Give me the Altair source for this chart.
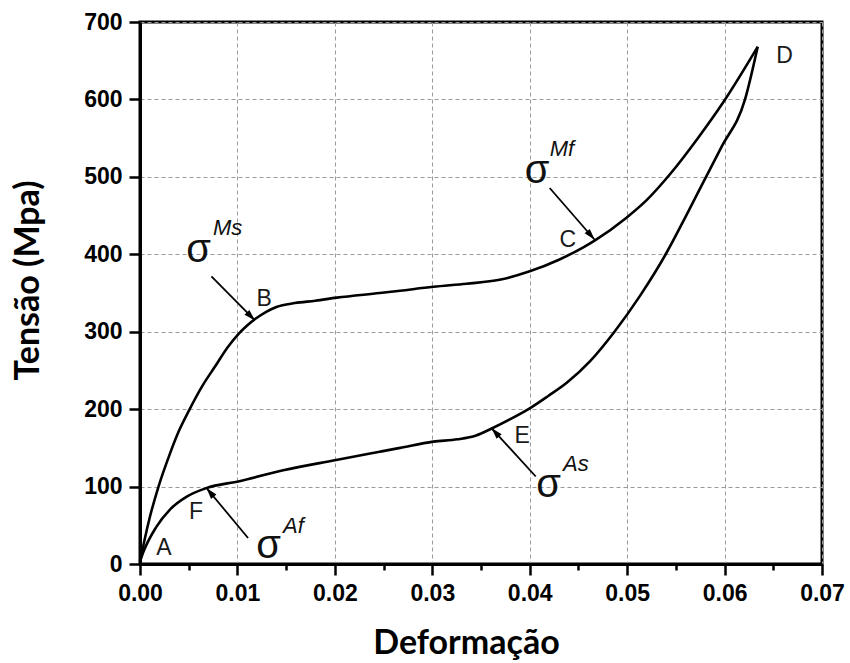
import math
import altair as alt
import pandas as pd

# ---- curve data (strain, stress MPa) ----
load_x = [0, 0.0005, 0.001, 0.0019, 0.003, 0.004, 0.0051, 0.0064, 0.0077, 0.009,
          0.0101, 0.011, 0.012, 0.013, 0.014, 0.0159, 0.018, 0.0202, 0.0246, 0.0267,
          0.0301, 0.0335, 0.0369, 0.04, 0.043, 0.0455, 0.0467, 0.0499, 0.052, 0.0545,
          0.0572, 0.0599, 0.0634]
load_y = [3, 33, 60, 100, 140, 172, 200, 230, 255, 280,
          297, 308, 318, 326, 332, 337, 340, 344, 350, 353,
          358, 362, 367, 378, 393, 409, 418, 447, 470, 505,
          549, 597, 668]

unload_x = [0, 0.0003, 0.00168, 0.00305, 0.0048, 0.0068, 0.0102, 0.0147, 0.02, 0.0246,
            0.0267, 0.0301, 0.0326, 0.0345, 0.0361, 0.038, 0.04, 0.0419, 0.0438, 0.0462,
            0.0487, 0.0513, 0.054, 0.0561, 0.0581, 0.0597, 0.0621, 0.0634]
unload_y = [3, 14, 48, 70, 87, 98, 107, 121, 134, 145,
            150, 158, 161, 166, 175, 187, 201, 217, 234, 262,
            300, 346, 401, 451, 500, 539, 600, 668]

# ---- annotation data ----
point_labels = ["A", "B", "C", "D", "E", "F"]
point_lx = [0.00246, 0.01275, 0.0439, 0.06617, 0.03923, 0.00575]
point_ly = [12, 333.5, 410, 647, 156.3, 58]

sigma_x = [0.00602, 0.04077, 0.04195, 0.01321]
sigma_y = [390, 492, 86, 7.7]
sup_text = ["Ms", "Mf", "As", "Af"]
sup_x = [0.00749, 0.04205, 0.04342, 0.01468]
sup_y = [425.3, 526.4, 119.6, 40]

arrow_x1 = [0.00733, 0.04205, 0.04062, 0.01109]
arrow_y1 = [371.4, 485.6, 113, 33.6]
arrow_x2 = [0.01180, 0.04667, 0.03607, 0.00682]
arrow_y2 = [314.5, 418.8, 175.6, 98.2]

x_ticks = [round(i * 0.005, 3) for i in range(15)]
y_ticks = list(range(0, 701, 50))

W, H = 682, 542
XMAX, YMAX = 0.07, 700

curves = pd.DataFrame(
    {"x": load_x, "y": load_y, "branch": "load", "i": range(len(load_x))}
)
curves = pd.concat([
    curves,
    pd.DataFrame({"x": unload_x, "y": unload_y, "branch": "unload", "i": range(len(unload_x))}),
])

labels_df = pd.DataFrame({"t": point_labels, "x": point_lx, "y": point_ly})
sigma_df = pd.DataFrame({"t": ["σ"] * 4, "x": sigma_x, "y": sigma_y})
sup_df = pd.DataFrame({"t": sup_text, "x": sup_x, "y": sup_y})

angles = []
for a, b, c, d in zip(arrow_x1, arrow_y1, arrow_x2, arrow_y2):
    dx = (c - a) * W / XMAX
    dy = (d - b) * H / YMAX
    angles.append(math.degrees(math.atan2(dx, dy)) % 360)
arrows_df = pd.DataFrame({"x1": arrow_x1, "y1": arrow_y1, "x2": arrow_x2, "y2": arrow_y2, "angle": angles})

xscale = alt.Scale(domain=[0, XMAX], nice=False, zero=False)
yscale = alt.Scale(domain=[0, YMAX], nice=False, zero=False)

x_major = "abs(datum.value*100 - round(datum.value*100)) < 1e-6"
y_major = "datum.value % 100 === 0"

x_axis = alt.Axis(
    title="Deformação",
    values=x_ticks,
    labelExpr=f"({x_major}) ? format(datum.value, '.2f') : ''",
    tickSize={"condition": {"test": x_major, "value": 11}, "value": 6},
    gridOpacity={"condition": {"test": x_major, "value": 1}, "value": 0},
    labelPadding=7,
    titleX=326,
    titleY=89,
    titleAlign="center",
    titleBaseline="alphabetic",
)
y_axis = alt.Axis(
    title="Tensão (Mpa)",
    values=y_ticks,
    labelExpr=f"({y_major}) ? datum.label : ''",
    tickSize={"condition": {"test": y_major, "value": 11}, "value": 6},
    gridOpacity={"condition": {"test": y_major, "value": 1}, "value": 0},
    labelPadding=7,
    titleX=-102,
    titleY=258,
    titleAlign="center",
    titleBaseline="alphabetic",
    titleAngle=270,
)

lines = alt.Chart(curves).mark_line(color="black", strokeWidth=2.6, interpolate="monotone").encode(
    x=alt.X("x:Q", scale=xscale, axis=x_axis),
    y=alt.Y("y:Q", scale=yscale, axis=y_axis),
    detail="branch:N",
    order="i:Q",
)

rules = alt.Chart(arrows_df).mark_rule(color="black", strokeWidth=1.8).encode(
    x=alt.X("x1:Q", scale=xscale), y=alt.Y("y1:Q", scale=yscale),
    x2="x2:Q", y2="y2:Q",
)

heads = alt.Chart(arrows_df).mark_point(
    shape="M0,0L-0.3,1L0.3,1Z", filled=True, color="black", opacity=1, size=520, strokeWidth=0
).encode(
    x=alt.X("x2:Q", scale=xscale), y=alt.Y("y2:Q", scale=yscale),
    angle=alt.Angle("angle:Q", scale=None),
)

letters = alt.Chart(labels_df).mark_text(
    font="Liberation Sans", fontSize=23, color="#1a1a1a", align="center", baseline="alphabetic"
).encode(x=alt.X("x:Q", scale=xscale), y=alt.Y("y:Q", scale=yscale), text="t:N")

sigmas = alt.Chart(sigma_df).mark_text(
    font="Liberation Sans", fontSize=40, color="#111", align="center", baseline="alphabetic"
).encode(x=alt.X("x:Q", scale=xscale), y=alt.Y("y:Q", scale=yscale), text="t:N")

sups = alt.Chart(sup_df).mark_text(
    font="Liberation Sans", fontSize=22, fontStyle="italic", color="#111", align="left", baseline="alphabetic"
).encode(x=alt.X("x:Q", scale=xscale), y=alt.Y("y:Q", scale=yscale), text="t:N")

chart = alt.layer(lines, rules, heads, letters, sigmas, sups).properties(
    width=W, height=H,
    autosize=alt.AutoSizeParams(type="none"),
    padding={"left": 140, "top": 22, "right": 28, "bottom": 99},
    background="white",
).configure_view(
    stroke="black", strokeWidth=3
).configure_axis(
    domainColor="black", domainWidth=3,
    tickColor="black", tickWidth=2.5,
    labelFont="Liberation Sans", labelFontWeight="bold", labelFontSize=23, labelColor="black",
    labelOverlap=False, labelFlush=False,
    titleFont="Lato", titleFontWeight="bold", titleFontSize=34, titleColor="black",
    grid=True, gridColor="#9a9a9a", gridDash=[4, 3], gridWidth=1,
)

chart.save("out.html", embed_options={"renderer": "svg", "actions": False})
